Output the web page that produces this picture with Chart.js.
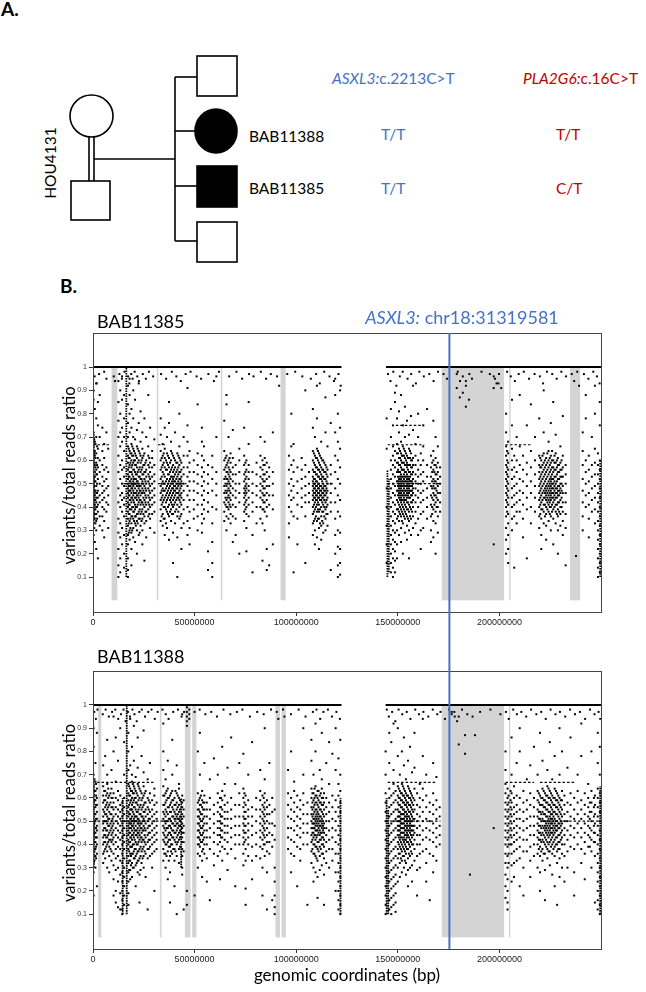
<!DOCTYPE html>
<html>
<head>
<meta charset="utf-8">
<script src="https://cdn.jsdelivr.net/npm/chart.js@4.4.1/dist/chart.umd.min.js"></script>
<style>
body{margin:0;background:#fff;width:646px;height:992px;position:relative;overflow:hidden;font-family:Lato,sans-serif}
#ped{position:absolute;left:0;top:0}
.lab{position:absolute;font-weight:bold;font-size:19px;font-family:Lato,sans-serif}
#c1{position:absolute;left:0;top:300px}
#c2{position:absolute;left:0;top:640px}
</style>
</head>
<body>
<div class="lab" style="left:1px;top:-3px">A.</div>
<div class="lab" style="left:60px;top:274px">B.</div>

<svg id="ped" width="646" height="290" xmlns="http://www.w3.org/2000/svg">
  <g fill="none" stroke="#000" stroke-width="1.6">
    <ellipse cx="91.5" cy="116" rx="21.5" ry="21"/>
    <line x1="89" y1="137" x2="89" y2="181"/>
    <line x1="94" y1="137" x2="94" y2="181"/>
    <rect x="71" y="181" width="39" height="39"/>
    <line x1="94" y1="159" x2="175" y2="159"/>
    <line x1="175" y1="77" x2="175" y2="241"/>
    <line x1="175" y1="77" x2="197" y2="77"/>
    <line x1="175" y1="131" x2="195" y2="131"/>
    <line x1="175" y1="186" x2="197" y2="186"/>
    <line x1="175" y1="241" x2="197" y2="241"/>
    <rect x="197" y="56" width="40" height="40"/>
    <ellipse cx="216" cy="131" rx="21" ry="22" fill="#000"/>
    <rect x="197" y="166" width="40" height="41" fill="#000"/>
    <rect x="197" y="222" width="40" height="40"/>
  </g>
  <g font-family="Lato, sans-serif" font-size="15.5">
    <text x="50" y="163" transform="rotate(-90 50 163)" text-anchor="middle" dominant-baseline="central">HOU4131</text>
    <text x="249" y="136" dominant-baseline="central">BAB11388</text>
    <text x="249" y="188" dominant-baseline="central">BAB11385</text>
    <text x="332" y="78" dominant-baseline="central" fill="#4472C4"><tspan font-style="italic">ASXL3:</tspan>c.2213C&gt;T</text>
    <text x="523" y="78" dominant-baseline="central" fill="#C00000"><tspan font-style="italic">PLA2G6:</tspan>c.16C&gt;T</text>
    <text x="381" y="134" dominant-baseline="central" fill="#4472C4">T/T</text>
    <text x="381" y="188" dominant-baseline="central" fill="#4472C4">T/T</text>
    <text x="556" y="134" dominant-baseline="central" fill="#C00000">T/T</text>
    <text x="556" y="188" dominant-baseline="central" fill="#C00000">C/T</text>
  </g>
</svg>

<canvas id="c1" width="646" height="340"></canvas>
<canvas id="c2" width="646" height="352"></canvas>

<script>
// positions in Mb, ratios in percent
const MB = 1e6;
const xTicks = [0, 50000000, 100000000, 150000000, 200000000];
const yTicks = [0.1, 0.2, 0.3, 0.4, 0.5, 0.6, 0.7, 0.8, 0.9, 1];
const asxl3Pos = 175.4;

// shaded regions (Mb)
const bands11385 = [[9.1,12.0],[31.4,32.1],[62.9,63.6],[92.3,94.8],[171.6,202.3],[204.8,205.5],[234.8,239.7]];
const bands11388 = [[2.5,4.1],[32.9,33.7],[45.2,48.0],[48.8,50.9],[89.8,92.0],[92.8,94.9],[171.6,202.3],[204.7,205.4]];

// homozygous calls at ratio 1 (Mb ranges)
const hom11385 = [[0,122.3],[144.2,250]];
const hom11388 = [[0,122.3],[144.0,250]];

// dense columns [Mb, from, to]
const streaks11385 = [[16.4,0.10,1.0],[0.4,0.33,0.72],[144.9,0.10,0.56],[145.6,0.12,0.52],[249.6,0.10,0.60]];
const streaks11388 = [[16.6,0.10,1.0],[14.6,0.10,0.60],[0.4,0.30,0.68],[43.4,0.30,0.60],[121.8,0.10,0.60],[144.5,0.10,0.60],[145.3,0.10,0.55],[249.6,0.10,0.65]];

// runs of identical ratios [ratio, fromMb, toMb]
const ties11385 = [[0.5,15,25],[0.5,32,46],[0.5,108,118],[0.5,145,171],[0.667,0,8],[0.667,32,36],[0.667,145,163],[0.667,203,216],[0.75,149,163]];
const ties11388 = [[0.5,0,44],[0.667,2,30],[0.5,144,171],[0.5,221,250],[0.667,145,169],[0.667,203,217],[0.667,220,237]];

// calls: [Mb, [ratio %...]]
const het11385 = [
  [0.3,[72,66,60,57,55,52,50,48,46,44,42,40,38,36,33,90,86,28]],
  [0.9,[68,64,62,58,55,53,51,47,45,43,41,39,37,35,82,25]],
  [1.6,[70,63,59,56,54,49,46,44,42,40,37,34,30,22,78,93]],
  [2.4,[65,61,57,52,47,44,41,38,75,18,85]],
  [3.3,[60,55,50,45,42,36,32,70,88]],
  [4.6,[64,58,53,49,46,43,40,36,74,30]],
  [5.5,[61,56,51,47,44,39,34,67,27]],
  [6.6,[57,52,48,42,38,72,95]],
  [7.5,[55,49,45,41,65,31]],
  [12.5,[94,85,77,70,62,55,48,42,35,29,22,15,10]],
  [13.4,[90,80,72,66,58,52,45,40,33,27,18,12]],
  [14.3,[96,86,74,68,60,56,50,46,43,38,31,24]],
  [15.3,[88,78,70,64,57,53,49,44,41,36,28,20,14]],
  [17.2,[66,62,59,56,54,52,50,48,46,44,42,40,38,35,32,28,24,18,13,10,70,76,84,92]],
  [18.0,[64,61,58,55,53,51,49,47,45,43,41,39,37,34,30,26,72,80,88,95]],
  [18.9,[67,63,60,57,55,52,50,48,46,44,42,39,36,33,29,22,15,74,82]],
  [19.8,[65,62,59,56,53,51,49,47,45,43,40,38,35,31,27,70,78,90]],
  [20.7,[63,60,58,55,52,50,48,46,44,41,39,36,33,25,69,86]],
  [21.6,[66,61,57,54,51,49,47,45,43,40,37,34,30,20,73]],
  [22.5,[64,60,56,53,50,48,46,44,42,38,35,28,76,93]],
  [23.4,[62,59,55,52,49,47,45,43,41,37,32,68,81]],
  [24.3,[65,61,57,54,51,48,46,42,39,35,30,24,72]],
  [25.3,[63,58,55,52,49,46,43,40,36,33,78,17]],
  [26.2,[60,56,53,50,47,44,41,38,34,70,27]],
  [27.2,[62,58,54,51,48,45,42,39,36,66,88]],
  [28.1,[59,55,52,49,46,43,40,35,31,74]],
  [29.1,[61,57,53,50,47,44,41,37,64]],
  [30.2,[58,54,51,48,45,42,38,29,69]],
  [33.3,[64,60,56,52,49,46,43,39,34,71,78]],
  [34.3,[62,58,55,51,48,45,42,37,32,67]],
  [35.3,[65,61,57,53,50,47,44,40,35,28,74]],
  [36.4,[63,59,56,52,49,46,43,38,31,70]],
  [37.4,[61,57,54,51,48,45,41,36,26,76,85]],
  [38.4,[64,60,56,53,50,47,44,42,39,34,68]],
  [39.4,[62,58,55,52,50,48,46,43,40,37,29,16]],
  [40.4,[60,57,54,51,49,47,45,42,38,33,72]],
  [41.5,[63,59,56,53,50,48,46,44,41,36,27,10]],
  [42.5,[61,58,55,52,50,47,45,43,40,35,66,80]],
  [43.5,[59,56,53,51,49,46,44,41,37,31,22]],
  [44.6,[62,57,54,50,47,43,39,33,70]],
  [46.5,[68,62,57,53,49,45,40,34,28,75,91]],
  [47.5,[64,59,55,51,47,43,38,31,24]],
  [49.6,[60,55,51,47,43,39,35]],
  [51.5,[63,58,54,50,46,41,36,30,84]],
  [53.6,[74,68,62,57,53,49,45,41,37,33,29]],
  [54.6,[66,60,55,51,47,43,39,35]],
  [56.6,[58,54,50,46,42,38,21,13]],
  [58.7,[62,57,52,47,40,33,25,16,10]],
  [60.7,[55,50,45,39,70,96]],
  [64.6,[64,60,56,52,49,46,42,38,34,77]],
  [65.7,[62,58,55,52,49,46,43,40,36,30,84,88]],
  [66.7,[60,57,54,51,48,45,42,39,35,70]],
  [67.7,[63,59,55,52,49,46,43,40,37,33]],
  [68.8,[61,57,54,51,48,45,41,36,25,73]],
  [70.2,[58,54,50,47,44,40,35,28]],
  [72.0,[60,55,50,46,42,65,20]],
  [74.4,[62,58,54,51,48,46,44,41,38,34,74]],
  [75.5,[60,56,53,50,48,46,43,40,37,31,21]],
  [76.6,[58,55,52,49,47,44,41,36,67,85]],
  [78.5,[55,50,46,42,38,28,12]],
  [80.5,[59,54,49,45,40,33]],
  [82.4,[62,57,53,50,47,44,40,35,70]],
  [83.4,[60,56,52,49,46,43,39,33,17]],
  [84.5,[61,58,54,51,48,45,42,38,30,68]],
  [85.5,[59,55,52,49,46,43,40,36,22,13]],
  [86.7,[57,53,49,45,41,15]],
  [88.5,[55,50,45,39,72,24]],
  [96.4,[62,56,50,45,40,33,27]],
  [97.6,[66,58,52,47,43,38,80]],
  [98.7,[60,55,49,44,36,67,12]],
  [100.6,[57,51,46,41,35,24]],
  [102.7,[61,56,52,48,44,40]],
  [104.5,[58,53,49,45,42,36,16,90]],
  [106.3,[55,50,46,42]],
  [108.2,[64,60,56,53,51,49,47,45,43,40,37,33,28,74,82]],
  [109.2,[62,58,55,52,50,48,46,44,42,39,35,30,24,70]],
  [110.2,[65,61,57,54,51,49,47,45,43,41,38,34,27,78,92]],
  [111.2,[63,59,56,53,50,48,46,44,41,38,35,31,22]],
  [112.3,[61,57,54,52,49,47,45,43,40,36,32,26,68]],
  [113.3,[60,56,53,50,48,46,44,41,38,33,29]],
  [114.4,[58,55,52,49,47,45,42,39,35,30,72,87]],
  [115.4,[56,53,50,47,44,41,37,32,66]],
  [117.0,[58,54,50,46,42,38,76,13]],
  [119.2,[62,55,48,42,35,28,20,72,88,95]],
  [120.5,[68,60,52,45,38,30,23,15,10,80]],
  [121.6,[65,57,50,43,36,29,22,16,11,74,90]],
  [144.5,[65,78,48,40,32,24,16]],
  [146.6,[60,56,52,48,44,40,36,32,28,24,20,16,12,70,82]],
  [147.6,[66,62,58,54,50,46,42,38,34,30,26,22,18,14,10,75]],
  [148.6,[64,60,57,53,49,45,41,37,33,29,25,21,17,12,85,89]],
  [149.6,[67,63,59,55,51,47,43,39,35,30,24,18,78]],
  [150.6,[65,61,58,55,52,50,48,46,44,41,38,34,28,72,81]],
  [151.6,[63,60,57,54,52,50,48,46,44,42,39,36,31,25,68,88]],
  [152.5,[66,62,59,56,53,51,49,47,45,43,40,37,33,20,75]],
  [153.5,[64,61,58,55,53,51,49,47,45,43,41,38,35,29,70,83]],
  [154.5,[62,59,57,54,52,50,48,46,44,42,39,36,32,26,77]],
  [155.5,[65,61,58,55,52,50,48,46,44,41,38,34,30,18,71]],
  [156.5,[63,60,57,54,51,49,47,45,42,39,35,28,79]],
  [157.5,[61,58,55,52,50,48,46,43,40,36,31,73,92]],
  [158.7,[62,58,54,51,48,45,42,38,33,67]],
  [160.0,[60,56,53,50,47,44,40,35,28,70,80]],
  [161.3,[63,58,54,50,46,42,37,30,22]],
  [162.5,[66,60,55,51,47,43,38,31,75]],
  [164.4,[58,53,48,44,40,35,82]],
  [166.3,[62,57,53,49,45,41,36,30,25]],
  [167.5,[64,60,56,52,49,46,43,39,34,27,77]],
  [168.6,[61,58,54,51,48,45,42,38,33,20,70]],
  [169.7,[59,55,52,49,46,43,40,36,29,66]],
  [170.8,[57,53,50,46,42,38]],
  [179.0,[91,97]],[180.5,[87]],[183.5,[83,94]],[185.0,[86]],[182.0,[89]],[197.2,[24,91,96]],[199.5,[93]],
  [203.3,[72,66,62,58,55,52,49,46,43,40,36,31,26,80,20]],
  [204.3,[68,63,59,56,53,50,47,44,41,37,33,28,22,16]],
  [206.2,[65,60,56,52,48,44,40,35,30,75,86]],
  [207.3,[62,57,53,49,45,41,36,14]],
  [208.5,[60,55,50,46,42,38,33,70]],
  [210.0,[58,52,47,43,38,66,88]],
  [211.6,[62,56,51,46,41,35,27]],
  [213.5,[59,54,49,44,39,75,18]],
  [215.5,[64,57,51,46,40,33,84]],
  [217.5,[60,54,49,44,38,70]],
  [219.6,[62,58,55,52,49,46,43,40,36,31,78]],
  [220.6,[60,57,54,51,48,45,42,39,35,28,22]],
  [221.8,[63,59,56,53,50,47,44,41,38,33,72,90]],
  [223.0,[61,58,55,52,49,47,45,43,40,37,32,26]],
  [224.2,[64,60,57,54,51,49,47,45,43,41,38,34,68]],
  [225.3,[62,59,56,53,51,49,47,45,43,40,36,30,76]],
  [226.5,[60,57,55,52,50,48,46,44,42,39,35,24,85]],
  [227.7,[63,59,56,53,50,48,46,44,41,38,33,71]],
  [228.8,[61,58,55,52,49,47,45,42,39,36,30,20]],
  [230.0,[59,56,53,50,48,46,43,40,37,32,66]],
  [231.2,[62,57,53,49,46,42,38,34,28,79]],
  [232.6,[58,54,50,46,42,37,31,15]],
  [237.7,[19]],
  [241.0,[64,58,52,47,42,36,30,72]],
  [242.5,[60,55,50,45,40,78,88]],
  [244.0,[62,56,51,46,41,35,27]],
  [245.5,[58,53,48,43,38,70]],
  [247.0,[65,59,54,49,44,39,33,80,92]],
  [248.5,[63,58,54,50,46,42,38,34,30,26,22,18,14,10]],
  [249.4,[60,56,52,48,44,40,36,32,28,24,20,16,12,75,85]]
];

// extra calls inside the densest clusters
const core11385 = [
  [0.6,[69,63,59,53,49,45,41,37,31]],[1.2,[67,61,57,51,47,43,39,33]],[2.0,[66,58,54,50,46,40,35]],
  [17.6,[65,61,57,53,49,47,45,41,37,33,29]],[18.4,[63,59,55,51,49,47,43,39,35,31]],
  [19.3,[66,62,58,54,50,48,44,40,36,30]],[20.2,[64,60,56,52,50,46,42,38,34]],
  [21.1,[62,58,54,52,50,46,44,40,36,32]],[22.0,[65,59,55,51,49,45,41,37,33]],
  [23.0,[63,57,53,49,47,43,39,35,29]],[23.9,[60,56,52,50,46,42,38,34]],
  [24.8,[62,58,54,50,47,44,41,37]],[25.8,[59,55,51,48,45,42,38]],[27.7,[61,57,53,50,47,44,41,37]],
  [33.8,[61,57,53,50,47,44,41,36]],[34.8,[63,59,54,50,47,43,40,35]],[35.9,[60,56,51,48,45,42,39,33]],
  [36.9,[62,58,54,50,47,44,40,37]],[37.9,[59,55,52,49,46,43,38]],[38.9,[63,57,53,51,48,45,41,37]],
  [39.9,[61,56,53,51,49,47,44,41]],[41.0,[59,55,52,50,48,46,43,39]],[42.0,[62,57,54,51,49,46,44,38]],
  [43.0,[60,55,52,50,48,45,42,36]],[65.2,[61,57,53,50,47,44,41]],[66.2,[59,55,52,50,47,44,40]],
  [67.2,[61,56,53,50,47,44,41]],[75.0,[59,55,52,49,47,45,42,39]],[83.9,[58,54,51,48,45,42,39]],
  [108.7,[63,59,55,52,50,48,46,44,41,38,34]],[109.7,[61,57,54,51,49,47,45,43,40,36]],
  [110.7,[64,60,56,53,50,48,46,44,42,39,35]],[111.7,[62,58,55,52,49,47,45,43,39,33]],
  [112.8,[60,56,53,51,48,46,44,42,38,34]],[113.8,[59,55,52,49,47,45,43,40,36]],
  [114.9,[57,54,51,48,46,43,40,37]],
  [150.1,[63,59,56,53,51,49,47,45,42,39,36]],[151.1,[64,61,58,55,53,51,49,47,45,43,40,37]],
  [152.0,[62,59,56,53,51,49,47,45,43,41,38,34]],[153.0,[65,62,59,56,54,52,50,48,46,44,42,39,36]],
  [154.0,[63,60,58,55,53,51,49,47,45,43,40,37]],[155.0,[61,58,56,53,51,49,47,45,42,39,35]],
  [156.0,[64,61,58,55,53,51,49,47,44,40,36]],[157.0,[60,57,54,51,49,47,45,42,38]],
  [166.9,[59,55,51,48,44,40,37]],[168.0,[58,55,51,48,45,41]],[169.1,[57,54,50,47,44,40]],
  [203.8,[64,60,57,54,51,48,45,42,38]],
  [220.1,[61,57,53,50,47,44,41,37]],[221.2,[62,58,55,52,49,46,43,39]],
  [222.4,[60,57,54,51,48,46,44,41,36]],[223.6,[63,59,56,53,50,48,46,44,42,39]],
  [224.8,[61,58,55,52,50,48,46,44,42,40,37]],[225.9,[64,60,57,54,52,50,48,46,44,41,38]],
  [227.1,[62,59,56,53,51,49,47,45,43,40]],[228.3,[60,57,54,51,48,46,44,41,37]],
  [229.4,[58,55,52,49,47,45,42,38]],[230.6,[60,56,53,50,47,44,40]]
];

const top11385 = [
  [0.8,96],[1.8,93],[3,97],[5.5,98],[10.2,96],[10.8,94],[13,97],[14.2,95],[15.5,98],[17.3,96],[17.9,93],[18.8,97],
  [19.5,95],[20.5,98],[21.8,96],[22.6,94],[24.5,97],[26,95],[27.5,98],[29.6,96],[33.5,97],[36,95],[38.8,98],[41,96],
  [43.2,94],[45.6,97],[48,98],[51,96],[53.2,95],[56.8,97],[59.5,94],[62,98],[67,96],[70.6,98],[73.4,95],[76.8,97],
  [79,96],[82.6,98],[85.2,95],[87.5,97],[90.6,96],[91.6,92],[95.6,97],[99.5,98],[103,96],[107.2,95],[109.8,97],
  [111.6,93],[113.8,98],[116.4,96],[118.6,94],[120.8,97],[121.9,92],
  [145.2,97],[146.4,94],[147.8,98],[149.3,92],[151,96],[152.4,98],[154.8,95],[156.6,97],[158.9,93],[160.6,98],
  [162.8,96],[165.5,97],[167.6,94],[169.8,98],[172.5,97],[174.2,95],[179.5,98],[180.6,94],[182,96],[183.5,92],
  [185.2,97],[186.5,95],[191.2,98],[195.3,97],[197.8,95],[198.6,93],[199.8,97],[200.9,91],[203.8,98],[205.6,96],
  [207.6,94],[209.5,97],[212,98],[214.6,95],[217.3,97],[219.9,96],[221.5,93],[223.4,98],[226,97],[228.2,95],
  [230.5,98],[232.8,96],[235.6,97],[236.8,94],[238.3,98],[239.2,92],[241.6,97],[243.8,95],[246.2,98],[248,96],[249.3,93]
];

const het11388 = [
  [0.3,[70,65,61,58,55,52,50,48,46,44,42,40,38,35,32,28,82,90,18]],
  [1.2,[67,63,59,56,53,50,47,45,43,41,38,35,30,75]],
  [1.9,[64,60,57,54,51,48,46,43,40,36,22,88]],
  [5.0,[65,61,58,55,52,49,46,43,40,36,32,74]],
  [6.0,[63,59,56,53,50,47,44,41,38,34,78]],
  [7.0,[66,62,58,55,52,49,46,43,40,37,30,70,85]],
  [8.0,[61,57,54,51,48,45,42,39,35,28]],
  [9.1,[64,60,56,53,50,47,44,41,37,33,72]],
  [10.1,[62,58,55,52,49,46,43,40,36,31,25,18,80,95]],
  [11.2,[60,56,53,50,47,44,41,38,34,29,20,15,67,86]],
  [12.3,[63,59,55,52,49,46,43,39,35,30,24,13,76]],
  [13.4,[61,57,54,51,48,45,42,38,33,27,19,12,90]],
  [14.4,[58,55,52,49,46,43,40,36,32,28,24,20,16,12,10]],
  [15.3,[60,56,53,50,47,44,41,38,34,30,26,22,18,14,70,84]],
  [17.4,[66,62,59,56,54,52,50,48,46,44,42,40,38,35,32,28,24,19,14,72,80,88]],
  [18.3,[64,61,58,55,53,51,49,47,45,43,41,39,36,33,29,25,74,94]],
  [19.2,[67,63,60,57,55,52,50,48,46,44,42,39,36,32,26,70,82]],
  [20.1,[65,62,59,56,53,51,49,47,45,43,40,37,34,30,76,91]],
  [21.0,[63,60,58,55,52,50,48,46,44,41,38,35,31,22,69]],
  [22.0,[66,61,57,54,51,49,47,45,43,40,37,33,28,73,86]],
  [22.9,[64,60,56,53,50,48,46,44,42,38,34,27,15]],
  [23.9,[62,59,55,52,49,47,45,43,41,37,32,78]],
  [24.9,[65,61,57,54,51,48,46,42,39,35,30,71,89]],
  [25.9,[63,58,55,52,49,46,43,40,36,26]],
  [26.9,[60,56,53,50,47,44,41,38,34,68,12]],
  [28.0,[62,58,54,51,48,45,42,39,35,75]],
  [29.1,[59,55,52,49,46,43,40,36,30]],
  [30.2,[61,57,53,50,47,44,41,37,64,20]],
  [31.3,[58,54,51,48,45,42,38]],
  [34.6,[65,61,57,54,51,48,45,42,38,33,72,80,92]],
  [35.7,[62,58,55,52,49,46,43,40,36,30,68]],
  [36.8,[64,60,56,53,50,47,44,41,37,25,76]],
  [37.9,[61,57,54,51,48,45,42,39,35,28,15]],
  [39.0,[63,59,56,52,49,46,43,40,36,70,85]],
  [40.1,[60,57,54,51,48,45,42,38,33,22]],
  [41.2,[62,58,55,52,49,46,43,40,35,74,10]],
  [42.3,[64,60,57,54,51,48,45,42,38,32,66]],
  [43.9,[61,58,56,53,51,49,47,45,43,41,38,35,30,27,96]],
  [44.6,[59,55,52,48,45,41,37,12]],
  [46.2,[99,97,95,93,91,20,14]],[47.4,[98,96,94]],[50.0,[18,97]],
  [51.6,[62,58,55,52,49,46,43,40,36,30,80]],
  [52.6,[60,57,54,51,48,45,42,39,35,70,88]],
  [53.7,[63,59,56,53,50,47,44,41,37,33,26]],
  [54.8,[61,58,55,52,49,46,43,40,36,75]],
  [56.0,[58,55,52,49,46,43,40,34,24]],
  [57.5,[60,55,51,47,43,38,68,16]],
  [59.5,[57,53,49,45,41,36,31,77]],
  [61.4,[62,58,54,50,47,44,40,35,70]],
  [62.5,[60,56,53,50,47,44,41,37,25]],
  [63.6,[63,59,55,52,49,46,43,39,33,82]],
  [64.8,[61,57,54,51,48,45,42,38,66]],
  [66.2,[58,54,51,48,45,41,36,29,73]],
  [68.0,[60,55,51,47,43,38,86]],
  [70.0,[57,52,48,44,40,34,22,66]],
  [72.0,[62,57,52,48,44,40,75]],
  [74.0,[64,60,56,52,49,46,43,40,36,31,79]],
  [75.1,[61,57,54,51,48,45,42,38,33,21,14]],
  [76.4,[59,55,52,49,46,43,40,35,70]],
  [78.3,[56,52,48,44,39,33,25,84]],
  [80.3,[60,55,50,45,40,35]],
  [82.3,[63,59,55,52,49,46,43,39,34,72]],
  [83.4,[61,57,54,51,48,45,42,38,30,18]],
  [84.5,[62,58,55,52,49,46,43,40,35,68,90]],
  [85.6,[59,56,53,50,47,44,41,37,28,12]],
  [86.8,[57,53,49,45,41,36,75]],
  [88.2,[60,54,49,44,39,16]],
  [89.4,[55,48,42,30,24,18,13,10]],
  [96.0,[62,57,52,47,43,38,72]],
  [97.5,[60,55,51,47,42,36,28,80]],
  [99.0,[63,58,54,50,46,41,35,67]],
  [100.5,[61,56,52,48,44,39,22]],
  [102.0,[59,55,51,47,43,38,33]],
  [103.5,[62,57,53,49,45,40,70,90]],
  [105.5,[58,53,49,45,40,14]],
  [107.5,[64,60,56,53,50,47,44,41,37,32,76,85]],
  [108.5,[62,59,56,53,51,49,47,45,43,40,36,30,24,70]],
  [109.5,[65,61,58,55,52,50,48,46,44,42,39,35,28,80,92]],
  [110.5,[63,60,57,54,52,50,48,46,44,41,38,33,26,17]],
  [111.6,[61,58,55,52,50,48,46,44,42,39,35,29,72]],
  [112.6,[64,60,57,54,51,49,47,45,43,40,36,31,68,88]],
  [113.7,[62,58,55,52,49,47,45,42,39,34,27,14]],
  [114.8,[60,56,53,50,47,44,41,37,32,75]],
  [116.2,[58,54,50,46,42,38,30,66,84]],
  [117.8,[61,56,51,47,43,38,33,79]],
  [119.4,[59,54,50,46,41,36,28,20,72,90]],
  [120.8,[66,61,56,52,48,44,40,36,32,28,24,20,16,12,77]],
  [121.7,[63,58,54,50,46,42,38,34,30,26,22,18,14,10,70,85]],
  [144.0,[62,58,54,50,46,42,38,34,30,26,22,18,14,10,70,80]],
  [145.8,[64,60,56,52,48,44,40,36,32,28,24,20,16,12,75,88]],
  [146.8,[61,57,53,49,45,41,37,33,29,25,21,17,13,10,84]],
  [147.9,[66,62,58,54,50,46,42,38,34,30,26,22,18,14,72,92]],
  [148.9,[63,59,55,51,47,43,39,35,31,27,23,19,15,11]],
  [150.0,[65,61,58,55,52,50,48,46,44,41,38,34,30,24,78,90]],
  [151.0,[63,60,57,54,52,50,48,46,44,42,39,36,32,26,70]],
  [152.0,[66,62,59,56,53,51,49,47,45,43,40,37,33,28,80]],
  [153.0,[64,61,58,55,53,51,49,47,45,43,41,38,35,30,74,86]],
  [154.0,[62,59,57,54,52,50,48,46,44,42,39,36,32,27,68]],
  [155.0,[65,61,58,55,52,50,48,46,44,41,38,34,29,22,76]],
  [156.0,[63,60,57,54,51,49,47,45,42,39,35,30,82]],
  [157.0,[61,58,55,52,50,48,46,43,40,36,31,24,71]],
  [158.2,[64,59,55,51,48,45,42,38,33,73,88]],
  [159.5,[62,57,53,50,47,44,40,35,29,18]],
  [160.8,[60,56,52,48,44,40,36,30,66]],
  [162.3,[64,59,54,50,46,42,37,78,94]],
  [164.0,[61,56,51,47,43,38,32,24,70]],
  [165.7,[58,54,50,46,42,36,16]],
  [167.4,[62,57,53,49,45,41,35,28,75]],
  [169.0,[59,55,51,47,43,39,33,69]],
  [170.6,[56,52,48,44,40]],
  [180.0,[83,95]],[183.1,[87,79]],[188.0,[87]],[185.5,[27]],[197.2,[47]],[176.5,[97,96]],[178.0,[95]],
  [203.0,[66,62,58,55,52,49,46,43,40,36,32,27,22,17,72,80]],
  [204.0,[64,60,57,54,51,48,45,42,39,35,30,25,20,15,12]],
  [206.0,[62,58,55,52,49,46,43,40,36,31,24,70,86]],
  [207.2,[65,60,56,53,50,47,44,41,37,32,26]],
  [208.5,[61,57,54,51,48,45,42,38,33,75]],
  [210.0,[60,55,51,47,43,39,34,22,80,90]],
  [211.8,[63,58,54,50,46,42,37,30,18]],
  [213.5,[59,55,51,47,42,37,68]],
  [215.2,[62,57,52,48,44,39,33,26,74]],
  [217.0,[60,56,52,48,44,40,35,82]],
  [218.8,[63,59,55,52,49,46,43,40,36,30,70]],
  [220.0,[61,57,54,51,48,45,42,39,35,28,20,88]],
  [221.2,[64,60,57,54,51,48,45,42,38,33,76]],
  [222.4,[62,59,56,53,50,48,46,43,40,36,29,16]],
  [223.6,[65,61,58,55,52,50,48,46,44,41,38,34,72]],
  [224.8,[63,60,57,54,52,50,48,46,44,41,37,31,84]],
  [226.0,[61,58,55,53,51,49,47,45,43,40,36,27,68]],
  [227.2,[64,60,57,54,51,49,47,45,42,39,35,22,78]],
  [228.4,[62,59,56,53,50,48,46,43,40,37,32,14]],
  [229.6,[60,57,54,51,49,47,44,41,38,34,26,70,90]],
  [230.8,[63,59,55,52,49,46,43,40,36,30,80]],
  [232.0,[61,57,53,50,47,44,40,35,24]],
  [233.5,[58,54,50,46,42,37,30,73]],
  [235.0,[62,57,52,48,44,39,86]],
  [236.8,[60,55,51,47,43,38,28,18]],
  [238.5,[63,58,53,49,45,40,70]],
  [240.3,[59,55,51,47,43,38,32,78,92]],
  [242.0,[62,57,53,49,45,41,36,25]],
  [243.7,[60,56,52,48,44,39,66]],
  [245.3,[63,58,54,50,46,42,37,30,80]],
  [247.0,[61,57,53,49,45,41,35,15]],
  [248.4,[64,60,56,52,48,44,40,36,32,28,24,20,16,12,75,88]],
  [249.4,[62,58,54,50,46,42,38,34,30,26,22,18,14,10,70,82]]
];

const core11388 = [
  [0.7,[68,63,59,53,49,45,41,37,33]],[1.5,[66,61,57,51,47,43,39,34]],
  [5.5,[63,59,54,50,47,44,41,37]],[6.5,[61,57,53,50,46,43,39]],[7.5,[64,60,56,51,48,44,41]],
  [8.6,[62,58,53,49,46,42,38]],[9.6,[60,56,51,48,45,42]],
  [17.8,[65,61,57,53,49,47,45,41,37,33,29]],[18.7,[63,59,55,51,49,47,43,39,35,31]],
  [19.6,[66,62,58,54,50,48,44,40,36,30]],[20.5,[64,60,56,52,50,46,42,38,34]],
  [21.5,[62,58,54,52,50,46,44,40,36,32]],[22.4,[65,59,55,51,49,45,41,37,33]],
  [23.4,[63,57,53,49,47,43,39,35,29]],[24.4,[60,56,52,50,46,42,38,34]],
  [25.4,[62,58,54,50,47,44,41,37]],[27.4,[59,55,51,48,45,42,38]],
  [35.1,[61,57,53,50,47,44,41,36]],[36.2,[63,59,54,50,47,43,40,35]],[37.3,[60,56,51,48,45,42,39,33]],
  [38.4,[62,58,54,50,47,44,40,37]],[39.5,[59,55,52,49,46,43,38]],[40.6,[63,57,53,51,48,45,41,37]],
  [41.7,[61,56,53,51,49,47,44,41]],[42.8,[59,55,52,50,48,46,43,39]],
  [52.1,[59,55,52,49,46,43,40]],[53.1,[61,57,53,50,47,44,41]],[54.2,[58,55,51,48,45,42,38]],
  [63.0,[60,56,52,49,46,43]],[74.5,[62,58,54,51,48,45,41]],[84.0,[60,56,53,50,47,44,40]],
  [108.0,[62,58,55,52,49,47,45,42,38]],[109.0,[64,60,57,54,51,49,47,44,40,36]],
  [110.0,[61,58,55,53,51,49,46,43,39,34]],[111.0,[63,59,56,53,51,49,47,45,41,37]],
  [112.1,[62,58,55,52,50,48,45,42,38]],[113.2,[60,57,53,50,48,46,43,40,36]],
  [150.5,[64,60,57,54,52,50,48,46,43,40,36]],[151.5,[62,59,56,53,51,49,47,45,43,41,38,34]],
  [152.5,[65,61,58,55,53,51,49,47,45,42,39,35]],[153.5,[63,60,57,54,52,50,48,46,44,42,40,37,33]],
  [154.5,[61,58,56,53,51,49,47,45,43,41,38]],[155.5,[64,60,57,54,52,50,48,46,43,40,36]],
  [156.5,[62,59,56,53,50,48,46,44,41,37]],[157.6,[60,57,54,51,48,46,44,40]],
  [204.5,[61,58,55,52,49,46,43,40,36,32]],[205.5,[63,59,56,53,50,47,44,40]],
  [219.4,[62,58,54,51,48,45,42,38]],[220.6,[60,57,53,50,47,44,41,37]],
  [221.8,[63,59,56,53,50,47,44,41,36]],[223.0,[61,58,55,52,49,47,45,42,39]],
  [224.2,[64,60,57,54,51,49,47,45,43,40,37]],[225.4,[62,59,56,53,51,49,47,45,42,39]],
  [226.6,[60,57,54,52,50,48,46,44,41,38]],[227.8,[63,59,56,53,50,48,46,43,40]],
  [229.0,[61,58,55,52,49,47,44,41,38]],[230.2,[59,56,53,50,48,45,42]],
  [244.5,[58,54,51,47,43,39]],[246.5,[60,56,52,48,45,41]]
];

const top11388 = [
  [0.6,97],[1.4,94],[2.2,98],[4.8,96],[6.2,98],[7.8,95],[9.4,97],[11,98],[12.4,94],[13.8,96],[15,98],[16,93],
  [17.2,97],[18.2,95],[19.4,98],[20.4,96],[21.5,93],[22.8,97],[24,98],[25.6,95],[27.2,97],[28.8,98],[30.4,94],
  [31.8,97],[34.2,98],[35.8,96],[37.2,94],[39.5,97],[41.8,98],[43.6,95],[44.8,97],[52.5,98],[55.3,96],[58.2,97],
  [61,95],[64.2,98],[67.6,96],[70.8,97],[73.5,98],[77.2,95],[80.8,97],[84,96],[87.6,98],[90.4,97],[91.2,94],
  [93.5,98],[94.2,95],[97.4,96],[101.2,98],[104.6,95],[108.2,97],[110,98],[111.8,94],[113.4,97],[115.6,98],
  [117.6,95],[119.8,97],[121.5,94],
  [144.6,98],[145.6,95],[147.2,97],[148.8,93],[150.4,98],[152.2,96],[154.4,97],[156.2,94],[158.6,98],[160.4,96],
  [162.6,97],[165,95],[167.2,98],[169.4,96],[171,97],[173.2,94],[175.2,98],[177.8,97],[179.2,93],[181.6,98],
  [184.2,96],[186.8,95],[190.5,97],[195.6,98],[200.5,96],[203.2,97],[204.6,94],[206.8,98],[208.6,96],[210.8,97],
  [213.2,95],[215.6,98],[218.2,96],[220.6,97],[222.8,94],[225.2,98],[227.6,96],[229.8,97],[232.4,95],[234.8,98],
  [237.2,96],[239.6,97],[242.2,94],[244.6,98],[246.8,96],[248.8,97],[249.6,94]
];

function pts(lists, top) {
  const out = [];
  lists.forEach(l => l.forEach(([x, ys]) => ys.forEach(y => out.push({x: x * MB, y: y / 100}))));
  top.forEach(([x, y]) => out.push({x: x * MB, y: y / 100}));
  return out;
}

function segSets(hom, streaks, ties) {
  const sets = [];
  hom.forEach(([a, b]) => sets.push({type: 'line', showLine: true, data: [{x: a * MB, y: 1}, {x: b * MB, y: 1}],
    borderColor: '#000', borderWidth: 2, pointRadius: 0}));
  streaks.forEach(([x, a, b]) => sets.push({type: 'line', showLine: true, data: [{x: x * MB, y: a}, {x: x * MB, y: b}],
    borderColor: '#000', borderWidth: 1.8, borderDash: [1.6, 0.9], pointRadius: 0}));
  ties.forEach(([y, a, b]) => sets.push({type: 'line', showLine: true, data: [{x: a * MB, y: y}, {x: b * MB, y: y}],
    borderColor: '#000', borderWidth: 1.2, borderDash: [2.5, 2], pointRadius: 0}));
  return sets;
}

const decor = {
  id: 'decor',
  beforeDatasetsDraw(chart, args, o) {
    const {ctx, scales: {x, y}} = chart;
    ctx.save();
    ctx.fillStyle = '#d4d4d4';
    const y1 = y.getPixelForValue(1), y0 = y.getPixelForValue(0);
    o.bands.forEach(([s, e]) => {
      const a = x.getPixelForValue(s * MB), b = x.getPixelForValue(e * MB);
      ctx.fillRect(a, y1, Math.max(b - a, 1.5), y0 - y1);
    });
    ctx.restore();
  },
  afterDatasetsDraw(chart, args, o) {
    const {ctx, chartArea: a, scales: {x}} = chart;
    ctx.save();
    ctx.strokeStyle = '#444';
    ctx.lineWidth = 1;
    ctx.strokeRect(a.left + 0.5, a.top + 0.5, a.width, a.height);
    const lx = x.getPixelForValue(asxl3Pos * MB);
    ctx.strokeStyle = '#4472C4';
    ctx.lineWidth = 2;
    ctx.beginPath();
    ctx.moveTo(lx, o.lineFromTop ? 0 : a.top);
    ctx.lineTo(lx, o.lineFromTop ? a.bottom : chart.height);
    ctx.stroke();
    ctx.fillStyle = '#000';
    ctx.font = '18px Lato';
    ctx.textBaseline = 'middle';
    ctx.textAlign = 'left';
    ctx.fillText(o.title, a.left + 4, o.titleY);
    // y axis title
    ctx.save();
    ctx.translate(70, (a.top + a.bottom) / 2 + 3);
    ctx.rotate(-Math.PI / 2);
    ctx.textAlign = 'center';
    ctx.font = '16.5px Lato';
    ctx.fillText('variants/total reads ratio', 0, 0);
    ctx.restore();
    if (o.gene) {
      ctx.fillStyle = '#4472C4';
      const p1 = 'ASXL3:', p2 = ' chr18:31319581';
      ctx.font = 'italic 18px Lato';
      const w1 = ctx.measureText(p1).width;
      ctx.font = '18px Lato';
      const w2 = ctx.measureText(p2).width;
      const sx = 462 - (w1 + w2) / 2;
      ctx.font = 'italic 18px Lato';
      ctx.fillText(p1, sx, o.titleY - 4);
      ctx.font = '18px Lato';
      ctx.fillText(p2, sx + w1, o.titleY - 4);
    }
    ctx.restore();
  }
};

function makeChart(id, lists, top, hom, streaks, ties, bands, extra) {
  const datasets = [{
    data: pts(lists, top), pointStyle: 'rect', pointRadius: 1.4, borderWidth: 0,
    backgroundColor: '#000', pointHoverRadius: 1.4
  }].concat(segSets(hom, streaks, ties));
  return new Chart(document.getElementById(id), {
    type: 'scatter',
    data: {datasets},
    plugins: [decor],
    options: {
      responsive: false,
      animation: false,
      events: [],
      layout: {padding: {top: extra.padTop, right: 45, left: 0, bottom: 0}},
      plugins: {
        legend: {display: false},
        tooltip: {enabled: false},
        decor: Object.assign({bands}, extra)
      },
      scales: {
        x: {
          type: 'linear', min: 0, max: 250 * MB,
          afterBuildTicks: s => { s.ticks = xTicks.map(v => ({value: v})); },
          afterFit: s => { s.height = extra.xHeight; },
          grid: {drawOnChartArea: false, drawTicks: true, tickLength: 4, color: '#333'},
          border: {display: false},
          ticks: {autoSkip: false, maxRotation: 0, padding: 1, color: '#222',
            font: {family: 'Liberation Sans', size: 9}, callback: v => String(v)},
          title: {display: !!extra.xTitle, text: extra.xTitle || '', color: '#000',
            font: {family: 'Lato', size: 17}, padding: {top: 0, bottom: 6}}
        },
        y: {
          min: -0.05, max: 1.146,
          afterBuildTicks: s => { s.ticks = yTicks.map(v => ({value: v})); },
          afterFit: s => { s.width = 93; },
          grid: {drawOnChartArea: false, drawTicks: true, tickLength: 4, color: '#333'},
          border: {display: false},
          ticks: {padding: 2, color: '#333', font: {family: 'Liberation Sans', size: 7},
            callback: v => v === 1 ? '1' : v.toFixed(1)}
        }
      }
    }
  });
}

makeChart('c1', [het11385, core11385], top11385, hom11385, streaks11385, ties11385, bands11385,
  {padTop: 33, xHeight: 28, title: 'BAB11385', titleY: 22, gene: true, lineFromTop: false});
makeChart('c2', [het11388, core11388], top11388, hom11388, streaks11388, ties11388, bands11388,
  {padTop: 31, xHeight: 43, title: 'BAB11388', titleY: 17, gene: false, lineFromTop: true,
   xTitle: 'genomic coordinates (bp)'});
</script>
</body>
</html>
